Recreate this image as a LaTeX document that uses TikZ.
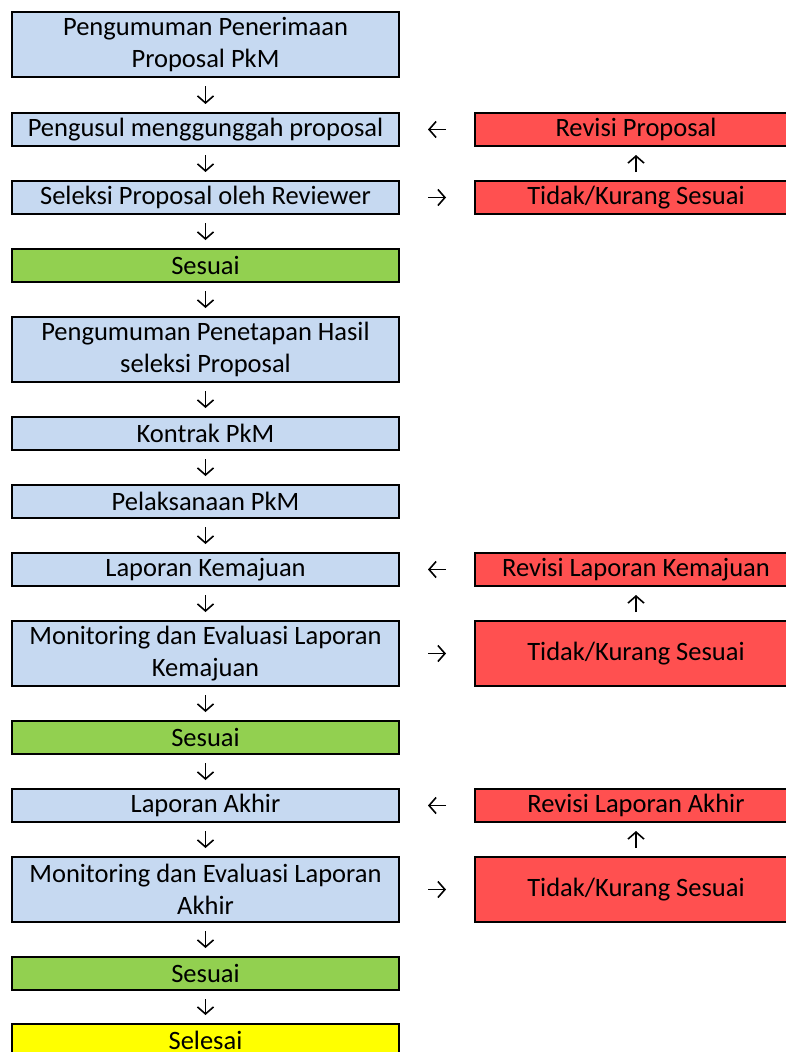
\documentclass[tikz,border=0pt]{standalone}
\usepackage{fontspec}
\setmainfont{Carlito}
\usepackage{xcolor}
\usetikzlibrary{arrows.meta, positioning}
\definecolor{procblue}{HTML}{C6D9F1}
\definecolor{okgreen}{HTML}{92D050}
\definecolor{failred}{HTML}{FF5050}
\definecolor{doneyellow}{HTML}{FFFF00}

\begin{document}
\begin{tikzpicture}[x=1pt, y=-1pt,
        procbox/.style={rectangle, draw=black, line width=2pt, fill=procblue, minimum width=387pt, minimum height=33pt, align=center, inner sep=0pt, font={\fontsize{26.5}{32}\selectfont}},
        okbox/.style={procbox, fill=okgreen},
        endbox/.style={procbox, fill=doneyellow},
        failbox/.style={procbox, fill=failred, minimum width=322pt},
        flow/.style={line width=1.6pt, -{Straight Barb[length=7pt, width=16pt]}, shorten <=8pt, shorten >=8pt},
        sideflow/.style={flow, shorten <=28pt, shorten >=28pt}
    ]
        \useasboundingbox (0,0) rectangle (786,1052);
        \clip (0,0) rectangle (786,1052);
        % Main flow
        \node (umum) [procbox, minimum height=65pt] at (205.5, 44.5) {Pengumuman Penerimaan\\Proposal PkM};
        \node (unggah) [procbox] at (205.5, 129.5) {Pengusul menggunggah proposal};
        \node (seleksi) [procbox] at (205.5, 197.5) {Seleksi Proposal oleh Reviewer};
        \node (ok1) [okbox] at (205.5, 265.5) {Sesuai};
        \node (tetap) [procbox, minimum height=65pt] at (205.5, 349.5) {Pengumuman Penetapan Hasil\\seleksi Proposal};
        \node (kontrak) [procbox] at (205.5, 433.5) {Kontrak PkM};
        \node (laksana) [procbox] at (205.5, 501.5) {Pelaksanaan PkM};
        \node (lapmaju) [procbox] at (205.5, 569.5) {Laporan Kemajuan};
        \node (monmaju) [procbox, minimum height=65pt] at (205.5, 653.5) {Monitoring dan Evaluasi Laporan\\Kemajuan};
        \node (ok2) [okbox] at (205.5, 737.5) {Sesuai};
        \node (lapakhir) [procbox] at (205.5, 805.5) {Laporan Akhir};
        \node (monakhir) [procbox, minimum height=65pt] at (205.5, 889.5) {Monitoring dan Evaluasi Laporan\\Akhir};
        \node (ok3) [okbox] at (205.5, 973.5) {Sesuai};
        \node (selesai) [endbox] at (205.5, 1040.5) {Selesai};
        % Revision loops
        \node (revprop) [failbox] at (636, 129.5) {Revisi Proposal};
        \node (gagal1) [failbox] at (636, 197.5) {Tidak/Kurang Sesuai};
        \node (revmaju) [failbox] at (636, 569.5) {Revisi Laporan Kemajuan};
        \node (gagal2) [failbox, minimum height=65pt] at (636, 653.5) {Tidak/Kurang Sesuai};
        \node (revakhir) [failbox] at (636, 805.5) {Revisi Laporan Akhir};
        \node (gagal3) [failbox, minimum height=65pt] at (636, 889.5) {Tidak/Kurang Sesuai};
        % Main arrows
        \draw [flow] (umum) -- (unggah);
        \draw [flow] (unggah) -- (seleksi);
        \draw [flow] (seleksi) -- (ok1);
        \draw [flow] (ok1) -- (tetap);
        \draw [flow] (tetap) -- (kontrak);
        \draw [flow] (kontrak) -- (laksana);
        \draw [flow] (laksana) -- (lapmaju);
        \draw [flow] (lapmaju) -- (monmaju);
        \draw [flow] (monmaju) -- (ok2);
        \draw [flow] (ok2) -- (lapakhir);
        \draw [flow] (lapakhir) -- (monakhir);
        \draw [flow] (monakhir) -- (ok3);
        \draw [flow] (ok3) -- (selesai);
        % Loop arrows
        \draw [sideflow] (seleksi) -- (gagal1);
        \draw [flow] (gagal1) -- (revprop);
        \draw [sideflow] (revprop) -- (unggah);
        \draw [sideflow] (monmaju) -- (gagal2);
        \draw [flow] (gagal2) -- (revmaju);
        \draw [sideflow] (revmaju) -- (lapmaju);
        \draw [sideflow] (monakhir) -- (gagal3);
        \draw [flow] (gagal3) -- (revakhir);
        \draw [sideflow] (revakhir) -- (lapakhir);
    \end{tikzpicture}
\end{document}
